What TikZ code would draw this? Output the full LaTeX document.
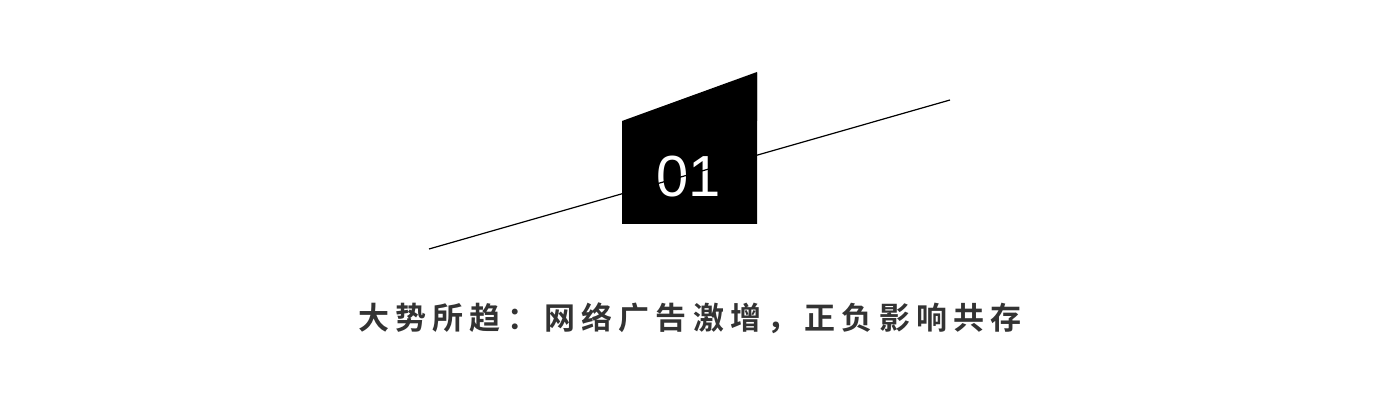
\documentclass[tikz,border=0pt]{standalone}
\usepackage{fontspec}
\setsansfont{Liberation Sans}
\newfontfamily\cjk[LetterSpace=20]{Noto Sans CJK SC Bold}
\definecolor{titlegray}{HTML}{333333}
\begin{document}
\begin{tikzpicture}[x=1pt,y=1pt]
\useasboundingbox (0,0) rectangle (1374,406);
% black tag
\fill[black] (622,182) -- (757,333) -- (757,182) -- cycle;
\fill[black] (622,182) rectangle (757,285);
\fill[black] (622,285) -- (757,334) -- (757,285) -- cycle;
\node[text=white,font=\sffamily\fontsize{58}{58}\selectfont] (num) at (689,229) {01};
% slanted line
\coordinate (lstart) at (429,157);
\coordinate (lend) at (950,306);
\draw[line width=1.2pt] (lstart) -- (lend);
\node[text=titlegray,font=\cjk\fontsize{31}{31}\selectfont] (title) at (690,88) {大势所趋：网络广告激增，正负影响共存};
\end{tikzpicture}
\end{document}
